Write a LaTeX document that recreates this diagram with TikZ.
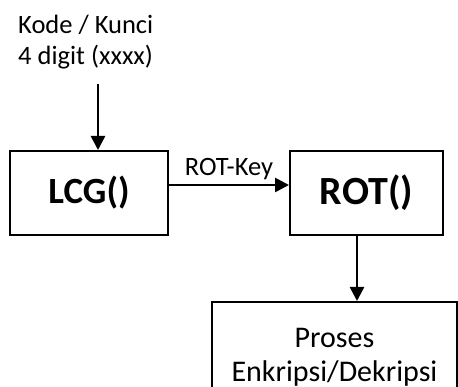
\documentclass[tikz,border=0pt]{standalone}
\usepackage{fontspec}
\setmainfont{Carlito}
\usetikzlibrary{arrows.meta,positioning,calc}

\begin{document}
\begin{tikzpicture}[x=1pt,y=1pt,
  every node/.style={font=\fontsize{26.5}{31}\selectfont},
  fbox/.style={draw=black,line width=2pt,minimum width=158pt,minimum height=84pt,inner sep=0pt,font=\fontsize{37}{40}\selectfont\bfseries},
  procbox/.style={draw=black,line width=1.6pt,align=center,minimum width=245pt,minimum height=110pt,anchor=north,inner xsep=0pt,inner ysep=21.5pt,font=\fontsize{30}{34}\selectfont},
  ar/.style={-{Triangle[length=14pt,width=14pt]},line width=2.6pt}]
\clip (0,0) rectangle (458,387);
\node[align=left,anchor=north west,inner sep=0pt] (kode) at (18,372) {Kode / Kunci\\4 digit (xxxx)};
\node[fbox] (lcg) at (89,194) {LCG()};
\node[fbox,minimum width=153pt,font=\fontsize{40}{44}\selectfont\bfseries] (rot) at (366.5,194) {ROT()};
\node[procbox] (proc) at (334.5,86) {Proses\\Enkripsi/Dekripsi};
\coordinate (in) at (98,303);
\coordinate (out) at (357,152);
\draw[ar] (in) -- (in |- lcg.north);
\draw[ar] ([yshift=8pt]lcg.east) -- node[above=1pt] {ROT-Key} ([yshift=8pt]lcg.east -| rot.west);
\draw[ar] (out) -- (out |- proc.north);
\end{tikzpicture}
\end{document}
